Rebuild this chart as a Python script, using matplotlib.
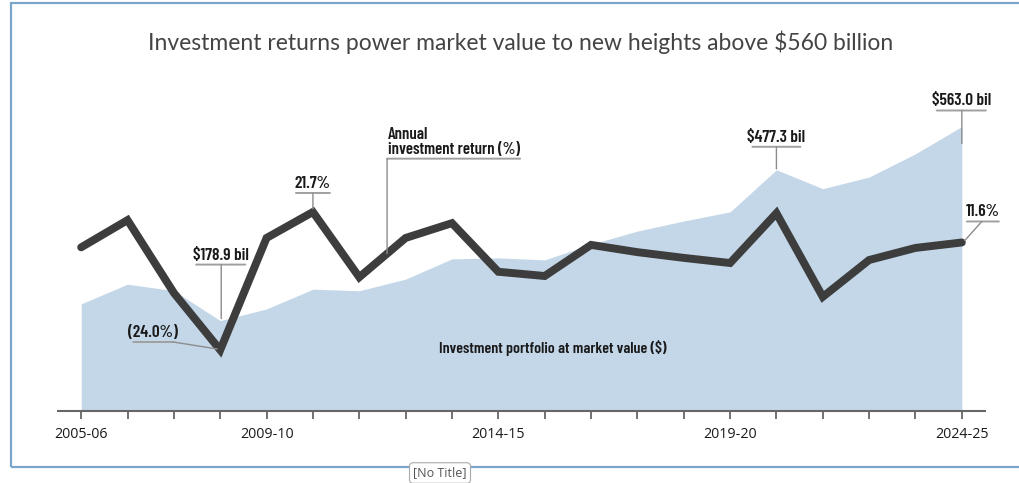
import matplotlib
matplotlib.use("Agg")
import matplotlib.pyplot as plt
import numpy as np
from matplotlib.patches import Rectangle
from matplotlib.transforms import offset_copy

years = ["2005-06", "2006-07", "2007-08", "2008-09", "2009-10", "2010-11", "2011-12",
         "2012-13", "2013-14", "2014-15", "2015-16", "2016-17", "2017-18", "2018-19",
         "2019-20", "2020-21", "2021-22", "2022-23", "2023-24", "2024-25"]
market_value = [212, 251, 238, 178.9, 202, 241, 238, 261, 301, 303, 299, 330, 356, 376,
                394, 477.3, 440, 463, 509, 563.0]
returns = [10.0, 19.0, -5.1, -24.0, 13.1, 21.7, 0.1, 13.1, 18.0, 1.9, 0.5, 10.8, 8.4,
           6.5, 4.8, 21.3, -6.4, 5.8, 9.8, 11.6]
shown_ticks = ["2005-06", "2009-10", "2014-15", "2019-20", "2024-25"]

AREA = "#c3d7e8"
LINE = "#3d3d3d"
LEADER = "#8c8c8c"
LABEL_FONT = ["Barlow Condensed", "DejaVu Sans"]


def callout(fig, ax, x, y, text, under, leader_from, leader_to, size=12.5, ha="center"):
    # offsets are pixels away from the data point
    def at(dx, dy):
        return offset_copy(ax.transData, fig=fig, x=dx, y=dy, units="dots")

    x0, x1, uy = under
    ax.annotate("", xy=(x, y), xycoords=at(x1, uy), xytext=(x, y), textcoords=at(x0, uy),
                arrowprops=dict(arrowstyle="-", color="#a0a0a0", lw=1.4,
                                shrinkA=0, shrinkB=0), annotation_clip=False)
    ax.annotate("", xy=(x, y), xycoords=at(*leader_to), xytext=(x, y),
                textcoords=at(*leader_from),
                arrowprops=dict(arrowstyle="-", color=LEADER, lw=1.0,
                                shrinkA=0, shrinkB=0), annotation_clip=False)
    tx = (x0 + x1) / 2.0 if ha == "center" else x0 + 1
    ax.text(x, y, text, transform=at(tx, uy + 2), ha=ha, va="bottom",
            fontsize=size, fontweight=600, family=LABEL_FONT, color="#1a1a1a",
            clip_on=False, linespacing=0.95)


def main():
    fig = plt.figure(figsize=(10.2, 4.83), dpi=100)
    ax1 = fig.add_axes([58 / 1020.0, 72 / 483.0, 927 / 1020.0, 331 / 483.0])
    ax2 = ax1.twinx()

    xs = np.arange(len(years))
    ax1.fill_between(xs, 0, market_value, color=AREA, lw=0)
    ax2.plot(xs, returns, color=LINE, lw=5.7, solid_capstyle="round", solid_joinstyle="miter")

    ax1.set_xlim(-0.5, 19.5)
    ax1.set_ylim(0, 655)
    ax2.set_ylim(-44.2, 65.4)

    for a in (ax1, ax2):
        for s in ("top", "right", "left"):
            a.spines[s].set_visible(False)
        a.set_yticks([])
    ax2.spines["bottom"].set_visible(False)
    ax1.spines["bottom"].set_color("#666666")
    ax1.spines["bottom"].set_linewidth(1.5)

    ax1.set_xticks(xs)
    ax1.set_xticklabels([y if y in shown_ticks else "" for y in years],
                        family=["Open Sans", "DejaVu Sans"], fontsize=10.3, color="#1a1a1a")
    ax1.tick_params(axis="x", length=5.5, width=1.3, color="#666666", pad=6)

    callout(fig, ax1, 3, market_value[3], "$178.9 bil", (-24, 25, 56), (1, 56), (1, 2))
    callout(fig, ax2, 3, returns[3], "(24.0%)", (-87, -47, 8), (-47, 8), (-3, 1))
    callout(fig, ax2, 5, returns[5], "21.7%", (-17, 17, 19), (0, 19), (0, 3))
    xa = 6.6
    ya = np.interp(xa, xs, returns)
    callout(fig, ax2, xa, ya, "Annual\ninvestment return (%)", (0, 133, 95), (0, 95), (0, 0),
            size=12, ha="left")
    callout(fig, ax1, 15, market_value[15], "$477.3 bil", (-24, 24, 23), (0, 23), (0, 1))
    callout(fig, ax1, 19, market_value[19], "$563.0 bil", (-25, 24, 16), (0, 16), (0, -17))
    callout(fig, ax2, 19, returns[19], "11.6%", (5, 37, 21), (20, 21), (3, 2))

    ax1.text(10.17, 125, "Investment portfolio at market value ($)", ha="center", va="center",
             fontsize=11.5, fontweight=600, family=LABEL_FONT, color="#1a1a1a")

    fig.text(0.51, 0.913, "Investment returns power market value to new heights above $560 billion",
             ha="center", va="center", fontsize=16.5, family=["Lato", "DejaVu Sans"], color="#444444")

    fig.patches.append(Rectangle((11 / 1020.0, 16 / 483.0), 1.1, 464 / 483.0,
                                 transform=fig.transFigure, fill=False,
                                 edgecolor="#7aa6ce", lw=1.6))
    fig.text(440 / 1020.0, 10 / 483.0, "[No Title]", ha="center", va="center", fontsize=9,
             family=["Open Sans", "DejaVu Sans"], color="#555555",
             bbox=dict(boxstyle="round,pad=0.3", fc="white", ec="#aaaaaa", lw=0.8))

    fig.savefig("out.png", dpi=100)
    return 0


if __name__ == '__main__':
    main()
